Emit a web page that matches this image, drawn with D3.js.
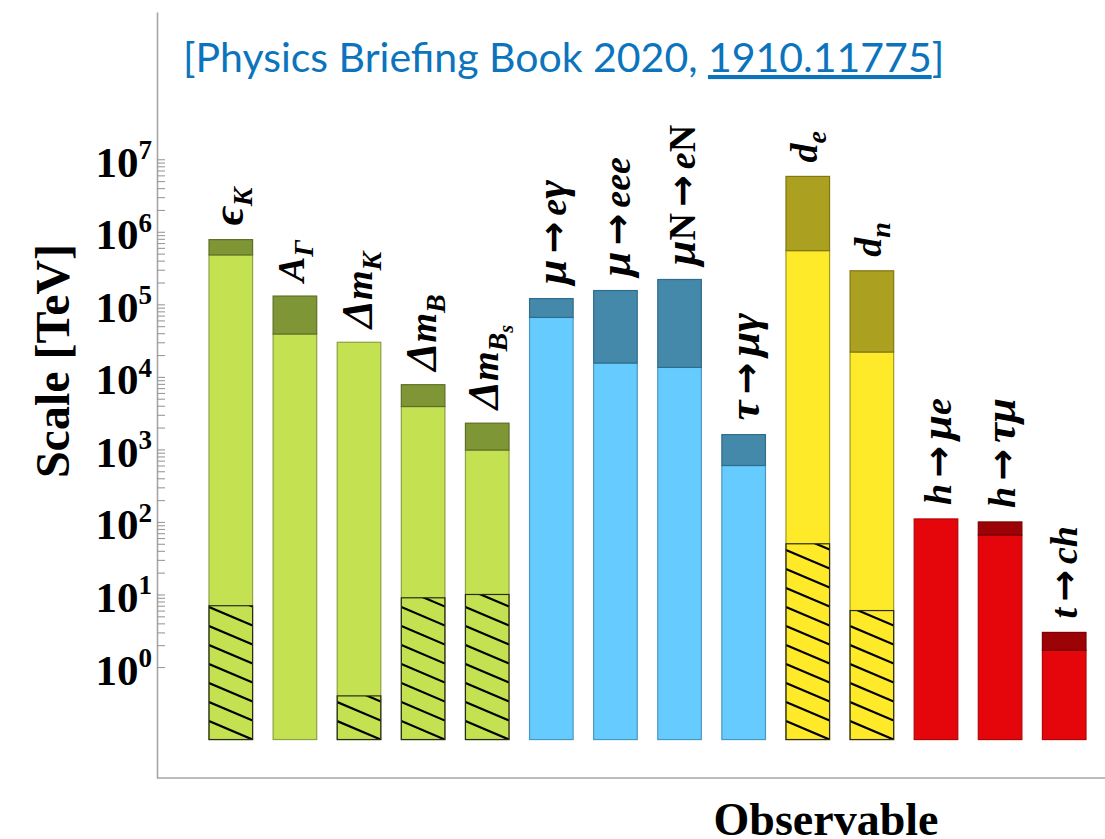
<!DOCTYPE html>
<html>
<head>
<meta charset="utf-8">
<script src="https://cdn.jsdelivr.net/npm/d3@7"></script>
<style>
  html, body { margin: 0; padding: 0; background: #fff; }
  svg { display: block; }
</style>
</head>
<body>
<svg id="chart" width="1105" height="839"></svg>
<script>
// Observables, in drawing order
const observables = ["epsK", "AGamma", "dmK", "dmB", "dmBs",
  "muEGamma", "muEEE", "muNeN", "tauMuGamma",
  "dE", "dN", "hMuE", "hTauMu", "tCH"];

// Colour family of each observable
const sectors = ["flavour", "flavour", "flavour", "flavour", "flavour",
  "lfv", "lfv", "lfv", "lfv",
  "edm", "edm", "higgsTop", "higgsTop", "higgsTop"];

// Scale reach in TeV: present bound (light), future reach (dark), tree-level hatched part
const presentScale = [4.8e5, 3.9e4, 3.0e4, 3.9e3, 980, 6.6e4, 1.55e4, 1.35e4, 600, 5.5e5, 2.2e4, 110, 66, 1.7];
const futureScale  = [7.8e5, 1.3e5, null, 7.8e3, 2.3e3, 1.2e5, 1.55e5, 2.2e5, 1.6e3, 5.8e6, 2.9e5, null, 100, 3.0];
const hatchedScale = [7, null, 0.4, 9, 10, null, null, null, null, 50, 6, null, null, null];

// Bar base value (TeV)
const baseScale = 0.1;

// Rotated labels above the bars: [text, style] pieces
const barLabels = [
  [["ϵ", "greek"], ["K", "sub"]],
  [["A"], ["Γ", "sub"]],
  [["Δ", "greek"], ["m"], ["K", "sub"]],
  [["Δ", "greek"], ["m"], ["B", "sub"]],
  [["Δ", "greek"], ["m"], ["B", "sub"], ["s", "subsub"]],
  [["μ", "greek"], ["→", "arrow"], ["e"], ["γ", "greek"]],
  [["μ", "greek"], ["→", "arrow"], ["eee"]],
  [["μ", "greek"], ["N", "up"], ["→", "arrow"], ["e"], ["N", "up"]],
  [["τ", "greek"], ["→", "arrow"], ["μ", "greek"], ["γ", "greek"]],
  [["d"], ["e", "sub"]],
  [["d"], ["n", "sub"]],
  [["h"], ["→", "arrow"], ["μ", "greek"], ["e"]],
  [["h"], ["→", "arrow"], ["τ", "greek"], ["μ", "greek"]],
  [["t"], ["→", "arrow"], ["c"], ["h"]]
];

// Decades labelled on the vertical axis
const tickExponents = [0, 1, 2, 3, 4, 5, 6, 7];

const palette = {
  flavour:  { light: "#c4e152", dark: "#7f9636", lightStroke: "#8fa046", darkStroke: "#5d6f27" },
  lfv:      { light: "#66cbff", dark: "#4488aa", lightStroke: "#4a98c2", darkStroke: "#2f6d8c" },
  edm:      { light: "#ffea29", dark: "#aba020", lightStroke: "#a29820", darkStroke: "#817812" },
  higgsTop: { light: "#e4060b", dark: "#9c0307", lightStroke: "#b0060a", darkStroke: "#7a0205" }
};

const svg = d3.select("#chart");
const serif = "'Liberation Serif', 'Times New Roman', serif";

// Scales
const y = d3.scaleLog().domain([Math.pow(10, -1.53), Math.pow(10, 9.03)]).range([778, 12]);
const x = d3.scaleBand().domain(observables).range([209, 1086]).paddingInner(0.32).paddingOuter(0);

// Vertical axis with minor ticks on every decade
const minorTicks = [];
tickExponents.forEach(e => {
  if (e === tickExponents[tickExponents.length - 1]) { minorTicks.push(Math.pow(10, e)); return; }
  for (let m = 1; m <= 9; m++) minorTicks.push(m * Math.pow(10, e));
});

const yAxis = d3.axisLeft(y).tickValues(minorTicks).tickSize(-8).tickSizeOuter(0).tickFormat("");
const gy = svg.append("g").attr("transform", "translate(157,0)").call(yAxis);
gy.select(".domain").attr("stroke", "#a6a6a6").attr("stroke-width", 1.6);
gy.selectAll(".tick line").attr("stroke", "#9a9a9a").attr("stroke-width", 1.1);

// Horizontal axis line
svg.append("line")
  .attr("x1", 157).attr("x2", 1105)
  .attr("y1", y.range()[0]).attr("y2", y.range()[0])
  .attr("stroke", "#a6a6a6").attr("stroke-width", 1.6);

// Decade labels 10^n
const tickLabels = svg.append("g").attr("font-family", serif).attr("font-weight", "bold").attr("fill", "#000");
tickExponents.forEach(e => {
  const ty = y(Math.pow(10, e));
  const t = tickLabels.append("text")
    .attr("x", 152).attr("y", ty + 17.5)
    .attr("text-anchor", "end")
    .attr("font-size", 43);
  t.append("tspan").text("10");
  t.append("tspan").text(String(e)).attr("font-size", 27).attr("dy", -17.5);
});

// Axis titles
svg.append("text")
  .attr("transform", "translate(69,361) rotate(-90)")
  .attr("text-anchor", "middle")
  .attr("font-family", serif).attr("font-weight", "bold").attr("font-size", 48)
  .text("Scale [TeV]");

svg.append("text")
  .attr("x", 826).attr("y", 835)
  .attr("text-anchor", "middle")
  .attr("font-family", serif).attr("font-weight", "bold").attr("font-size", 46)
  .text("Observable");

// Citation line
const cite = svg.append("text")
  .attr("x", 183).attr("y", 72)
  .attr("font-family", "Lato, 'Open Sans', sans-serif").attr("font-size", 41)
  .attr("fill", "#0b74bc");
cite.append("tspan").text("[Physics Briefing Book 2020, ");
cite.append("tspan").text("1910.11775").attr("text-decoration", "underline");
cite.append("tspan").text("]");

// Bars
const defs = svg.append("defs");
const bars = svg.append("g");
const labels = svg.append("g");
const bw = x.bandwidth();
const hatchGap = 19, hatchDrop = 18.5;
const arrowSpace = 6;

observables.forEach((key, i) => {
  const col = palette[sectors[i]];
  const x0 = x(key);
  const yBase = y(baseScale);
  const g = bars.append("g");

  // present bound
  g.append("rect")
    .attr("x", x0).attr("width", bw)
    .attr("y", y(presentScale[i])).attr("height", yBase - y(presentScale[i]))
    .attr("fill", col.light).attr("stroke", col.lightStroke).attr("stroke-width", 1.2);

  // future reach on top
  if (futureScale[i] != null) {
    g.append("rect")
      .attr("x", x0).attr("width", bw)
      .attr("y", y(futureScale[i])).attr("height", y(presentScale[i]) - y(futureScale[i]))
      .attr("fill", col.dark).attr("stroke", col.darkStroke).attr("stroke-width", 1.2);
  }

  // hatched tree-level part
  if (hatchedScale[i] != null) {
    const yTop = y(hatchedScale[i]);
    const clipId = "hatch-" + key;
    defs.append("clipPath").attr("id", clipId)
      .append("rect").attr("x", x0).attr("y", yTop).attr("width", bw).attr("height", yBase - yTop);
    const hg = g.append("g").attr("clip-path", "url(#" + clipId + ")");
    const n = Math.ceil((yBase - yTop + hatchDrop) / hatchGap) + 1;
    d3.range(n).forEach(k => {
      hg.append("line")
        .attr("x1", x0).attr("y1", yBase - k * hatchGap - hatchDrop)
        .attr("x2", x0 + bw).attr("y2", yBase - k * hatchGap)
        .attr("stroke", "#000").attr("stroke-width", 2.2);
    });
    g.append("rect")
      .attr("x", x0).attr("width", bw)
      .attr("y", yTop).attr("height", yBase - yTop)
      .attr("fill", "none").attr("stroke", "#2a2a1a").attr("stroke-width", 1.2);
  }

  // label, rotated and centred on the bar
  const topVal = futureScale[i] != null ? futureScale[i] : presentScale[i];
  const lg = labels.append("g")
    .attr("transform", `translate(${x0 + bw / 2},${y(topVal) - 14}) rotate(-90)`);
  const t = lg.append("text")
    .attr("font-family", serif).attr("font-weight", "bold").attr("font-size", 38)
    .attr("fill", "#000");
  let shift = 0, prevKind = null;
  barLabels[i].forEach(([s, kind]) => {
    const level = kind === "sub" ? 1 : kind === "subsub" ? 2 : 0;
    const target = level === 1 ? 9 : level === 2 ? 15 : 0;
    const ts = t.append("tspan").text(s)
      .attr("dy", target - shift)
      .attr("font-size", level === 1 ? 28 : level === 2 ? 20 : kind === "greek" ? 45 : 38)
      .attr("font-style", kind === "up" || kind === "arrow" ? "normal" : "italic");
    if (kind === "arrow") {
      ts.attr("font-family", "'DejaVu Sans', sans-serif").attr("dx", arrowSpace);
    } else if (prevKind === "arrow") {
      ts.attr("dx", arrowSpace);
    }
    shift = target;
    prevKind = kind;
  });
  const bb = t.node().getBBox();
  t.attr("transform", `translate(0,${-(bb.y + bb.height / 2)})`);
});
</script>
</body>
</html>
